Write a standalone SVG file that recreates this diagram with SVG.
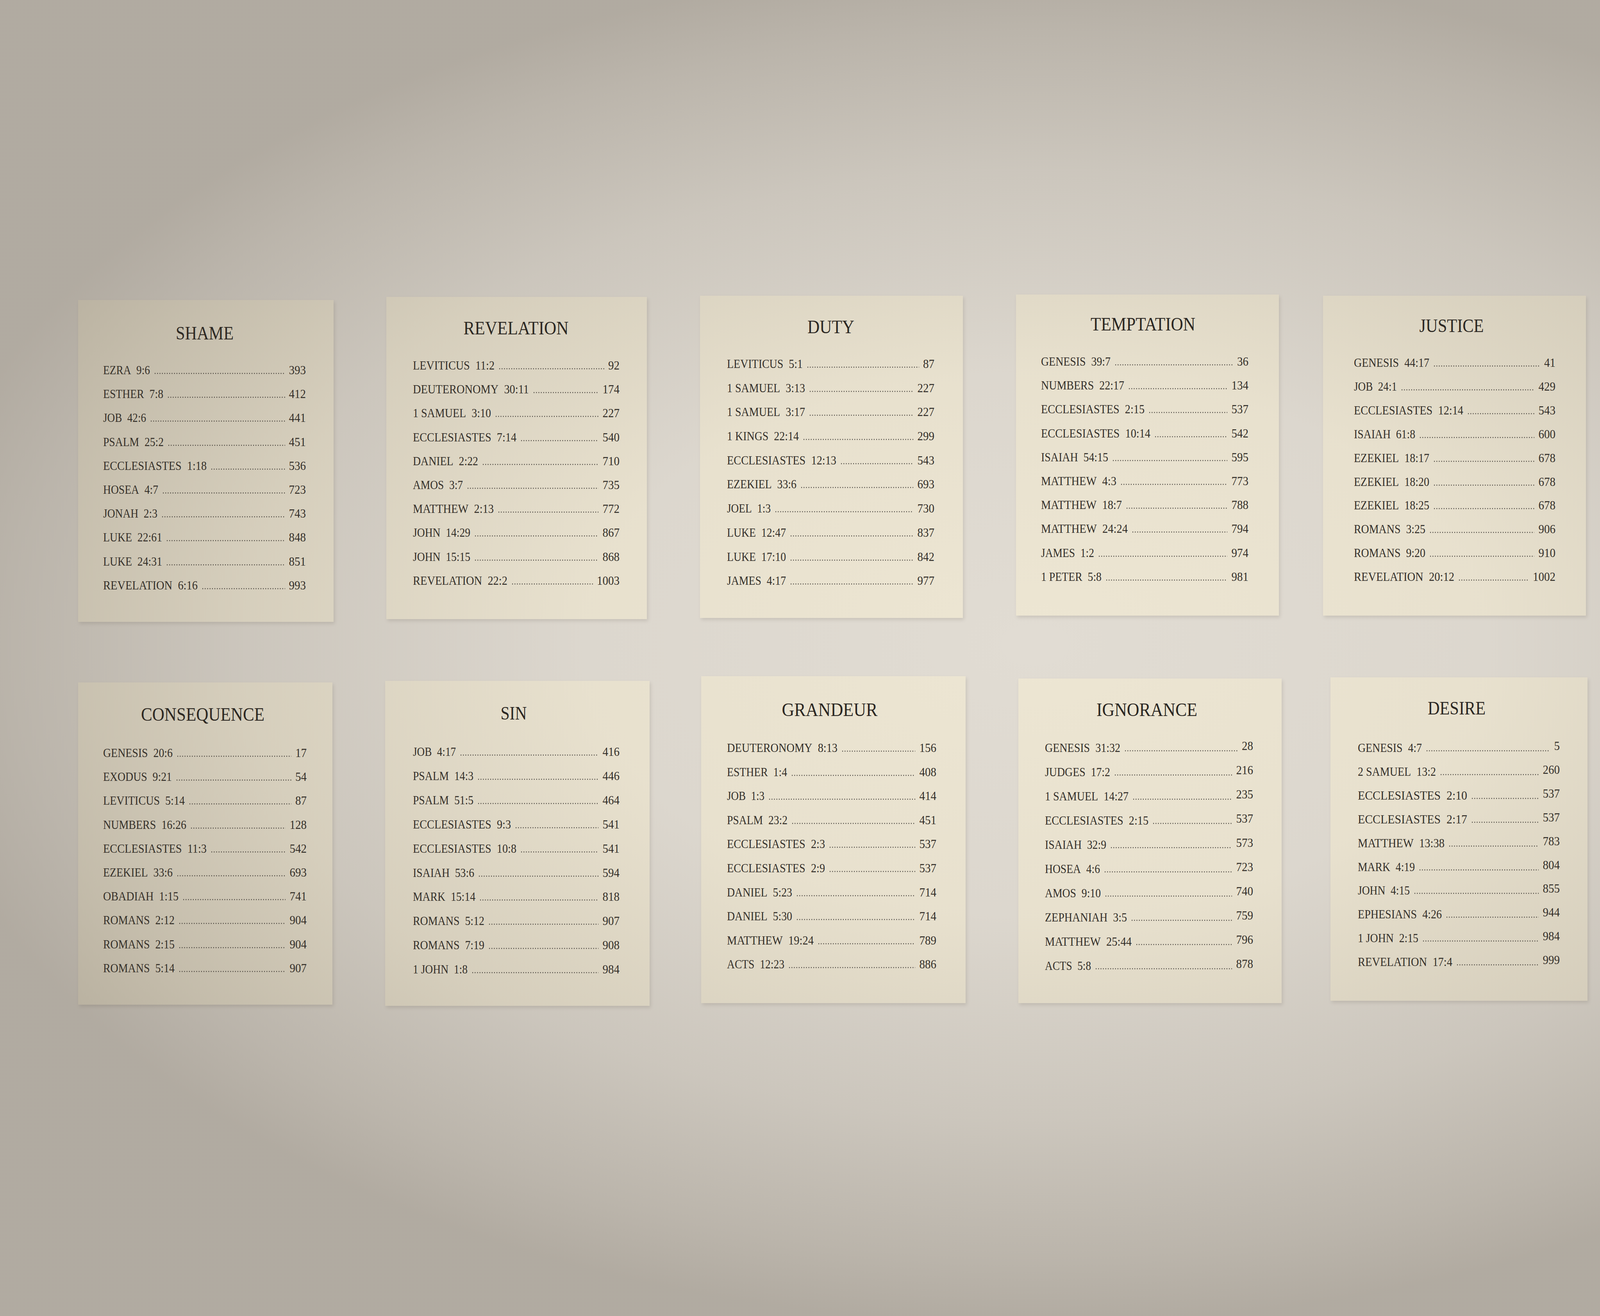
<svg xmlns="http://www.w3.org/2000/svg" width="5053" height="3369" viewBox="0 0 5053 3369">
<defs>
<radialGradient id="vig" gradientUnits="userSpaceOnUse" cx="2650" cy="1650" r="2900" gradientTransform="translate(2650 1650) scale(1 0.6) translate(-2650 -1650)">
<stop offset="0" stop-color="#3c3226" stop-opacity="0"/>
<stop offset="0.4" stop-color="#3c3226" stop-opacity="0.03"/>
<stop offset="0.7" stop-color="#3c3226" stop-opacity="0.13"/>
<stop offset="0.9" stop-color="#3c3226" stop-opacity="0.23"/>
<stop offset="1" stop-color="#3c3226" stop-opacity="0.29"/>
</radialGradient>
<filter id="sh" x="-5%" y="-5%" width="110%" height="110%"><feGaussianBlur stdDeviation="5"/></filter>
</defs>
<style>
.p{fill:#ede6d3}
.s{fill:#5a5045;opacity:0.16;filter:url(#sh)}
.t{font-family:"Liberation Serif","Times New Roman",serif;font-size:49px;fill:#2a2622;text-anchor:middle}
.e{font-family:"Liberation Serif","Times New Roman",serif;font-size:32px;fill:#322e29}
.n{font-family:"Liberation Serif","Times New Roman",serif;font-size:32px;fill:#322e29;text-anchor:end}
.d{stroke:#504b45;stroke-width:2.4;stroke-dasharray:2.2 4;fill:none}
</style>
<rect x="0" y="0" width="5053" height="3369" fill="#e1dcd3"/>

<g id="panel-shame">
<rect class="s" x="203" y="773" width="654" height="824"/>
<rect class="p" x="200" y="768" width="654" height="824"/>
<text class="t" x="524" y="869" textLength="148" lengthAdjust="spacingAndGlyphs">SHAME</text>
<text class="e" x="264" y="958" textLength="120" lengthAdjust="spacingAndGlyphs">EZRA&#8194;9:6</text><line class="d" x1="396" y1="956" x2="730" y2="956"/><text class="n" x="783" y="958" textLength="43.5" lengthAdjust="spacingAndGlyphs">393</text>
<text class="e" x="264" y="1019" textLength="154" lengthAdjust="spacingAndGlyphs">ESTHER&#8194;7:8</text><line class="d" x1="430" y1="1017" x2="730" y2="1017"/><text class="n" x="783" y="1019" textLength="43.5" lengthAdjust="spacingAndGlyphs">412</text>
<text class="e" x="264" y="1080" textLength="110" lengthAdjust="spacingAndGlyphs">JOB&#8194;42:6</text><line class="d" x1="386" y1="1078" x2="730" y2="1078"/><text class="n" x="783" y="1080" textLength="43.5" lengthAdjust="spacingAndGlyphs">441</text>
<text class="e" x="264" y="1142" textLength="155" lengthAdjust="spacingAndGlyphs">PSALM&#8194;25:2</text><line class="d" x1="431" y1="1140" x2="730" y2="1140"/><text class="n" x="783" y="1142" textLength="43.5" lengthAdjust="spacingAndGlyphs">451</text>
<text class="e" x="264" y="1203" textLength="265" lengthAdjust="spacingAndGlyphs">ECCLESIASTES&#8194;1:18</text><line class="d" x1="541" y1="1201" x2="730" y2="1201"/><text class="n" x="783" y="1203" textLength="43.5" lengthAdjust="spacingAndGlyphs">536</text>
<text class="e" x="264" y="1264" textLength="141" lengthAdjust="spacingAndGlyphs">HOSEA&#8194;4:7</text><line class="d" x1="417" y1="1262" x2="730" y2="1262"/><text class="n" x="783" y="1264" textLength="43.5" lengthAdjust="spacingAndGlyphs">723</text>
<text class="e" x="264" y="1325" textLength="139" lengthAdjust="spacingAndGlyphs">JONAH&#8194;2:3</text><line class="d" x1="415" y1="1323" x2="730" y2="1323"/><text class="n" x="783" y="1325" textLength="43.5" lengthAdjust="spacingAndGlyphs">743</text>
<text class="e" x="264" y="1386" textLength="151" lengthAdjust="spacingAndGlyphs">LUKE&#8194;22:61</text><line class="d" x1="427" y1="1384" x2="730" y2="1384"/><text class="n" x="783" y="1386" textLength="43.5" lengthAdjust="spacingAndGlyphs">848</text>
<text class="e" x="264" y="1448" textLength="151" lengthAdjust="spacingAndGlyphs">LUKE&#8194;24:31</text><line class="d" x1="427" y1="1446" x2="730" y2="1446"/><text class="n" x="783" y="1448" textLength="43.5" lengthAdjust="spacingAndGlyphs">851</text>
<text class="e" x="264" y="1509" textLength="242" lengthAdjust="spacingAndGlyphs">REVELATION&#8194;6:16</text><line class="d" x1="518" y1="1507" x2="730" y2="1507"/><text class="n" x="783" y="1509" textLength="43.5" lengthAdjust="spacingAndGlyphs">993</text>
</g>

<g id="panel-revelation">
<rect class="s" x="992" y="765" width="667" height="825"/>
<rect class="p" x="989" y="760" width="667" height="825"/>
<text class="t" x="1321" y="856" textLength="269" lengthAdjust="spacingAndGlyphs">REVELATION</text>
<text class="e" x="1057" y="946" textLength="209" lengthAdjust="spacingAndGlyphs">LEVITICUS&#8194;11:2</text><line class="d" x1="1278" y1="944" x2="1547" y2="944"/><text class="n" x="1586" y="946" textLength="29" lengthAdjust="spacingAndGlyphs">92</text>
<text class="e" x="1057" y="1007" textLength="297" lengthAdjust="spacingAndGlyphs">DEUTERONOMY&#8194;30:11</text><line class="d" x1="1366" y1="1005" x2="1532" y2="1005"/><text class="n" x="1586" y="1007" textLength="43.5" lengthAdjust="spacingAndGlyphs">174</text>
<text class="e" x="1057" y="1068" textLength="200" lengthAdjust="spacingAndGlyphs">1 SAMUEL&#8194;3:10</text><line class="d" x1="1269" y1="1066" x2="1532" y2="1066"/><text class="n" x="1586" y="1068" textLength="43.5" lengthAdjust="spacingAndGlyphs">227</text>
<text class="e" x="1057" y="1130" textLength="265" lengthAdjust="spacingAndGlyphs">ECCLESIASTES&#8194;7:14</text><line class="d" x1="1334" y1="1128" x2="1532" y2="1128"/><text class="n" x="1586" y="1130" textLength="43.5" lengthAdjust="spacingAndGlyphs">540</text>
<text class="e" x="1057" y="1191" textLength="167" lengthAdjust="spacingAndGlyphs">DANIEL&#8194;2:22</text><line class="d" x1="1236" y1="1189" x2="1532" y2="1189"/><text class="n" x="1586" y="1191" textLength="43.5" lengthAdjust="spacingAndGlyphs">710</text>
<text class="e" x="1057" y="1252" textLength="128" lengthAdjust="spacingAndGlyphs">AMOS&#8194;3:7</text><line class="d" x1="1197" y1="1250" x2="1532" y2="1250"/><text class="n" x="1586" y="1252" textLength="43.5" lengthAdjust="spacingAndGlyphs">735</text>
<text class="e" x="1057" y="1313" textLength="207" lengthAdjust="spacingAndGlyphs">MATTHEW&#8194;2:13</text><line class="d" x1="1276" y1="1311" x2="1532" y2="1311"/><text class="n" x="1586" y="1313" textLength="43.5" lengthAdjust="spacingAndGlyphs">772</text>
<text class="e" x="1057" y="1374" textLength="147" lengthAdjust="spacingAndGlyphs">JOHN&#8194;14:29</text><line class="d" x1="1216" y1="1372" x2="1532" y2="1372"/><text class="n" x="1586" y="1374" textLength="43.5" lengthAdjust="spacingAndGlyphs">867</text>
<text class="e" x="1057" y="1436" textLength="147" lengthAdjust="spacingAndGlyphs">JOHN&#8194;15:15</text><line class="d" x1="1216" y1="1434" x2="1532" y2="1434"/><text class="n" x="1586" y="1436" textLength="43.5" lengthAdjust="spacingAndGlyphs">868</text>
<text class="e" x="1057" y="1497" textLength="242" lengthAdjust="spacingAndGlyphs">REVELATION&#8194;22:2</text><line class="d" x1="1311" y1="1495" x2="1518" y2="1495"/><text class="n" x="1586" y="1497" textLength="58" lengthAdjust="spacingAndGlyphs">1003</text>
</g>

<g id="panel-duty">
<rect class="s" x="1795" y="762" width="673" height="825"/>
<rect class="p" x="1792" y="757" width="673" height="825"/>
<text class="t" x="2127" y="853" textLength="120" lengthAdjust="spacingAndGlyphs">DUTY</text>
<text class="e" x="1861" y="942" textLength="194" lengthAdjust="spacingAndGlyphs">LEVITICUS&#8194;5:1</text><line class="d" x1="2067" y1="940" x2="2353" y2="940"/><text class="n" x="2392" y="942" textLength="29" lengthAdjust="spacingAndGlyphs">87</text>
<text class="e" x="1861" y="1004" textLength="200" lengthAdjust="spacingAndGlyphs">1 SAMUEL&#8194;3:13</text><line class="d" x1="2073" y1="1002" x2="2338" y2="1002"/><text class="n" x="2392" y="1004" textLength="43.5" lengthAdjust="spacingAndGlyphs">227</text>
<text class="e" x="1861" y="1065" textLength="200" lengthAdjust="spacingAndGlyphs">1 SAMUEL&#8194;3:17</text><line class="d" x1="2073" y1="1063" x2="2338" y2="1063"/><text class="n" x="2392" y="1065" textLength="43.5" lengthAdjust="spacingAndGlyphs">227</text>
<text class="e" x="1861" y="1127" textLength="184" lengthAdjust="spacingAndGlyphs">1 KINGS&#8194;22:14</text><line class="d" x1="2057" y1="1125" x2="2338" y2="1125"/><text class="n" x="2392" y="1127" textLength="43.5" lengthAdjust="spacingAndGlyphs">299</text>
<text class="e" x="1861" y="1189" textLength="280" lengthAdjust="spacingAndGlyphs">ECCLESIASTES&#8194;12:13</text><line class="d" x1="2153" y1="1187" x2="2338" y2="1187"/><text class="n" x="2392" y="1189" textLength="43.5" lengthAdjust="spacingAndGlyphs">543</text>
<text class="e" x="1861" y="1250" textLength="178" lengthAdjust="spacingAndGlyphs">EZEKIEL&#8194;33:6</text><line class="d" x1="2051" y1="1248" x2="2338" y2="1248"/><text class="n" x="2392" y="1250" textLength="43.5" lengthAdjust="spacingAndGlyphs">693</text>
<text class="e" x="1861" y="1312" textLength="112" lengthAdjust="spacingAndGlyphs">JOEL&#8194;1:3</text><line class="d" x1="1985" y1="1310" x2="2338" y2="1310"/><text class="n" x="2392" y="1312" textLength="43.5" lengthAdjust="spacingAndGlyphs">730</text>
<text class="e" x="1861" y="1374" textLength="151" lengthAdjust="spacingAndGlyphs">LUKE&#8194;12:47</text><line class="d" x1="2024" y1="1372" x2="2338" y2="1372"/><text class="n" x="2392" y="1374" textLength="43.5" lengthAdjust="spacingAndGlyphs">837</text>
<text class="e" x="1861" y="1436" textLength="151" lengthAdjust="spacingAndGlyphs">LUKE&#8194;17:10</text><line class="d" x1="2024" y1="1434" x2="2338" y2="1434"/><text class="n" x="2392" y="1436" textLength="43.5" lengthAdjust="spacingAndGlyphs">842</text>
<text class="e" x="1861" y="1497" textLength="151" lengthAdjust="spacingAndGlyphs">JAMES&#8194;4:17</text><line class="d" x1="2024" y1="1495" x2="2338" y2="1495"/><text class="n" x="2392" y="1497" textLength="43.5" lengthAdjust="spacingAndGlyphs">977</text>
</g>

<g id="panel-temptation">
<rect class="s" x="2604" y="759" width="673" height="822"/>
<rect class="p" x="2601" y="754" width="673" height="822"/>
<text class="t" x="2926" y="846" textLength="268" lengthAdjust="spacingAndGlyphs">TEMPTATION</text>
<text class="e" x="2665" y="936" textLength="178" lengthAdjust="spacingAndGlyphs">GENESIS&#8194;39:7</text><line class="d" x1="2855" y1="934" x2="3157" y2="934"/><text class="n" x="3196" y="936" textLength="29" lengthAdjust="spacingAndGlyphs">36</text>
<text class="e" x="2665" y="997" textLength="213" lengthAdjust="spacingAndGlyphs">NUMBERS&#8194;22:17</text><line class="d" x1="2890" y1="995" x2="3142" y2="995"/><text class="n" x="3196" y="997" textLength="43.5" lengthAdjust="spacingAndGlyphs">134</text>
<text class="e" x="2665" y="1058" textLength="265" lengthAdjust="spacingAndGlyphs">ECCLESIASTES&#8194;2:15</text><line class="d" x1="2942" y1="1056" x2="3142" y2="1056"/><text class="n" x="3196" y="1058" textLength="43.5" lengthAdjust="spacingAndGlyphs">537</text>
<text class="e" x="2665" y="1120" textLength="280" lengthAdjust="spacingAndGlyphs">ECCLESIASTES&#8194;10:14</text><line class="d" x1="2957" y1="1118" x2="3142" y2="1118"/><text class="n" x="3196" y="1120" textLength="43.5" lengthAdjust="spacingAndGlyphs">542</text>
<text class="e" x="2665" y="1181" textLength="172" lengthAdjust="spacingAndGlyphs">ISAIAH&#8194;54:15</text><line class="d" x1="2849" y1="1179" x2="3142" y2="1179"/><text class="n" x="3196" y="1181" textLength="43.5" lengthAdjust="spacingAndGlyphs">595</text>
<text class="e" x="2665" y="1242" textLength="193" lengthAdjust="spacingAndGlyphs">MATTHEW&#8194;4:3</text><line class="d" x1="2870" y1="1240" x2="3142" y2="1240"/><text class="n" x="3196" y="1242" textLength="43.5" lengthAdjust="spacingAndGlyphs">773</text>
<text class="e" x="2665" y="1303" textLength="207" lengthAdjust="spacingAndGlyphs">MATTHEW&#8194;18:7</text><line class="d" x1="2884" y1="1301" x2="3142" y2="1301"/><text class="n" x="3196" y="1303" textLength="43.5" lengthAdjust="spacingAndGlyphs">788</text>
<text class="e" x="2665" y="1364" textLength="222" lengthAdjust="spacingAndGlyphs">MATTHEW&#8194;24:24</text><line class="d" x1="2899" y1="1362" x2="3142" y2="1362"/><text class="n" x="3196" y="1364" textLength="43.5" lengthAdjust="spacingAndGlyphs">794</text>
<text class="e" x="2665" y="1426" textLength="136" lengthAdjust="spacingAndGlyphs">JAMES&#8194;1:2</text><line class="d" x1="2813" y1="1424" x2="3142" y2="1424"/><text class="n" x="3196" y="1426" textLength="43.5" lengthAdjust="spacingAndGlyphs">974</text>
<text class="e" x="2665" y="1487" textLength="155" lengthAdjust="spacingAndGlyphs">1 PETER&#8194;5:8</text><line class="d" x1="2832" y1="1485" x2="3142" y2="1485"/><text class="n" x="3196" y="1487" textLength="43.5" lengthAdjust="spacingAndGlyphs">981</text>
</g>

<g id="panel-justice">
<rect class="s" x="3390" y="762" width="673" height="819"/>
<rect class="p" x="3387" y="757" width="673" height="819"/>
<text class="t" x="3716" y="850" textLength="165" lengthAdjust="spacingAndGlyphs">JUSTICE</text>
<text class="e" x="3466" y="939" textLength="193" lengthAdjust="spacingAndGlyphs">GENESIS&#8194;44:17</text><line class="d" x1="3671" y1="937" x2="3943" y2="937"/><text class="n" x="3982" y="939" textLength="29" lengthAdjust="spacingAndGlyphs">41</text>
<text class="e" x="3466" y="1000" textLength="110" lengthAdjust="spacingAndGlyphs">JOB&#8194;24:1</text><line class="d" x1="3588" y1="998" x2="3928" y2="998"/><text class="n" x="3982" y="1000" textLength="43.5" lengthAdjust="spacingAndGlyphs">429</text>
<text class="e" x="3466" y="1061" textLength="280" lengthAdjust="spacingAndGlyphs">ECCLESIASTES&#8194;12:14</text><line class="d" x1="3758" y1="1059" x2="3928" y2="1059"/><text class="n" x="3982" y="1061" textLength="43.5" lengthAdjust="spacingAndGlyphs">543</text>
<text class="e" x="3466" y="1122" textLength="157" lengthAdjust="spacingAndGlyphs">ISAIAH&#8194;61:8</text><line class="d" x1="3635" y1="1120" x2="3928" y2="1120"/><text class="n" x="3982" y="1122" textLength="43.5" lengthAdjust="spacingAndGlyphs">600</text>
<text class="e" x="3466" y="1183" textLength="193" lengthAdjust="spacingAndGlyphs">EZEKIEL&#8194;18:17</text><line class="d" x1="3671" y1="1181" x2="3928" y2="1181"/><text class="n" x="3982" y="1183" textLength="43.5" lengthAdjust="spacingAndGlyphs">678</text>
<text class="e" x="3466" y="1244" textLength="193" lengthAdjust="spacingAndGlyphs">EZEKIEL&#8194;18:20</text><line class="d" x1="3671" y1="1242" x2="3928" y2="1242"/><text class="n" x="3982" y="1244" textLength="43.5" lengthAdjust="spacingAndGlyphs">678</text>
<text class="e" x="3466" y="1304" textLength="193" lengthAdjust="spacingAndGlyphs">EZEKIEL&#8194;18:25</text><line class="d" x1="3671" y1="1302" x2="3928" y2="1302"/><text class="n" x="3982" y="1304" textLength="43.5" lengthAdjust="spacingAndGlyphs">678</text>
<text class="e" x="3466" y="1365" textLength="183" lengthAdjust="spacingAndGlyphs">ROMANS&#8194;3:25</text><line class="d" x1="3661" y1="1363" x2="3928" y2="1363"/><text class="n" x="3982" y="1365" textLength="43.5" lengthAdjust="spacingAndGlyphs">906</text>
<text class="e" x="3466" y="1426" textLength="183" lengthAdjust="spacingAndGlyphs">ROMANS&#8194;9:20</text><line class="d" x1="3661" y1="1424" x2="3928" y2="1424"/><text class="n" x="3982" y="1426" textLength="43.5" lengthAdjust="spacingAndGlyphs">910</text>
<text class="e" x="3466" y="1487" textLength="257" lengthAdjust="spacingAndGlyphs">REVELATION&#8194;20:12</text><line class="d" x1="3735" y1="1485" x2="3914" y2="1485"/><text class="n" x="3982" y="1487" textLength="58" lengthAdjust="spacingAndGlyphs">1002</text>
</g>

<g id="panel-freedom">
<rect class="s" x="4180" y="765" width="631" height="809"/>
<rect class="p" x="4177" y="760" width="631" height="809"/>
<text class="t" x="4489" y="859" textLength="196" lengthAdjust="spacingAndGlyphs">FREEDOM</text>
<text class="e" x="4243" y="946" textLength="191" lengthAdjust="spacingAndGlyphs">EXODUS&#8194;36:21</text><line class="d" x1="4446" y1="944" x2="4709" y2="944"/><text class="n" x="4748" y="946" textLength="29" lengthAdjust="spacingAndGlyphs">80</text>
<text class="e" x="4243" y="1006" textLength="283" lengthAdjust="spacingAndGlyphs">DEUTERONOMY&#8194;5:29</text><line class="d" x1="4538" y1="1004" x2="4694" y2="1004"/><text class="n" x="4748" y="1006" textLength="43.5" lengthAdjust="spacingAndGlyphs">154</text>
<text class="e" x="4243" y="1066" textLength="184" lengthAdjust="spacingAndGlyphs">JOSHUA&#8194;24:15</text><line class="d" x1="4439" y1="1064" x2="4694" y2="1064"/><text class="n" x="4748" y="1066" textLength="43.5" lengthAdjust="spacingAndGlyphs">199</text>
<text class="e" x="4243" y="1125" textLength="96" lengthAdjust="spacingAndGlyphs">JOB&#8194;1:1</text><line class="d" x1="4351" y1="1123" x2="4694" y2="1123"/><text class="n" x="4748" y="1125" textLength="43.5" lengthAdjust="spacingAndGlyphs">414</text>
<text class="e" x="4243" y="1185" textLength="157" lengthAdjust="spacingAndGlyphs">ISAIAH&#8194;1:17</text><line class="d" x1="4412" y1="1183" x2="4694" y2="1183"/><text class="n" x="4748" y="1185" textLength="43.5" lengthAdjust="spacingAndGlyphs">549</text>
<text class="e" x="4243" y="1245" textLength="178" lengthAdjust="spacingAndGlyphs">EZEKIEL&#8194;18:9</text><line class="d" x1="4433" y1="1243" x2="4694" y2="1243"/><text class="n" x="4748" y="1245" textLength="43.5" lengthAdjust="spacingAndGlyphs">678</text>
<text class="e" x="4243" y="1305" textLength="133" lengthAdjust="spacingAndGlyphs">JOHN&#8194;8:32</text><line class="d" x1="4388" y1="1303" x2="4694" y2="1303"/><text class="n" x="4748" y="1305" textLength="43.5" lengthAdjust="spacingAndGlyphs">860</text>
<text class="e" x="4243" y="1365" textLength="292" lengthAdjust="spacingAndGlyphs">1 CORINTHIANS&#8194;10:32</text><line class="d" x1="4547" y1="1363" x2="4694" y2="1363"/><text class="n" x="4748" y="1365" textLength="43.5" lengthAdjust="spacingAndGlyphs">923</text>
<text class="e" x="4243" y="1424" textLength="136" lengthAdjust="spacingAndGlyphs">JAMES&#8194;4:7</text><line class="d" x1="4391" y1="1422" x2="4694" y2="1422"/><text class="n" x="4748" y="1424" textLength="43.5" lengthAdjust="spacingAndGlyphs">976</text>
<text class="e" x="4243" y="1484" textLength="140" lengthAdjust="spacingAndGlyphs">1 JOHN&#8194;3:9</text><line class="d" x1="4395" y1="1482" x2="4694" y2="1482"/><text class="n" x="4748" y="1484" textLength="43.5" lengthAdjust="spacingAndGlyphs">985</text>
</g>

<g id="panel-consequence">
<rect class="s" x="203" y="1752" width="651" height="825"/>
<rect class="p" x="200" y="1747" width="651" height="825"/>
<text class="t" x="519" y="1845" textLength="316" lengthAdjust="spacingAndGlyphs">CONSEQUENCE</text>
<text class="e" x="264" y="1938" textLength="178" lengthAdjust="spacingAndGlyphs">GENESIS&#8194;20:6</text><line class="d" x1="454" y1="1936" x2="746" y2="1936"/><text class="n" x="785" y="1938" textLength="29" lengthAdjust="spacingAndGlyphs">17</text>
<text class="e" x="264" y="1999" textLength="176" lengthAdjust="spacingAndGlyphs">EXODUS&#8194;9:21</text><line class="d" x1="452" y1="1997" x2="746" y2="1997"/><text class="n" x="785" y="1999" textLength="29" lengthAdjust="spacingAndGlyphs">54</text>
<text class="e" x="264" y="2060" textLength="209" lengthAdjust="spacingAndGlyphs">LEVITICUS&#8194;5:14</text><line class="d" x1="485" y1="2058" x2="746" y2="2058"/><text class="n" x="785" y="2060" textLength="29" lengthAdjust="spacingAndGlyphs">87</text>
<text class="e" x="264" y="2122" textLength="213" lengthAdjust="spacingAndGlyphs">NUMBERS&#8194;16:26</text><line class="d" x1="489" y1="2120" x2="731" y2="2120"/><text class="n" x="785" y="2122" textLength="43.5" lengthAdjust="spacingAndGlyphs">128</text>
<text class="e" x="264" y="2183" textLength="265" lengthAdjust="spacingAndGlyphs">ECCLESIASTES&#8194;11:3</text><line class="d" x1="541" y1="2181" x2="731" y2="2181"/><text class="n" x="785" y="2183" textLength="43.5" lengthAdjust="spacingAndGlyphs">542</text>
<text class="e" x="264" y="2244" textLength="178" lengthAdjust="spacingAndGlyphs">EZEKIEL&#8194;33:6</text><line class="d" x1="454" y1="2242" x2="731" y2="2242"/><text class="n" x="785" y="2244" textLength="43.5" lengthAdjust="spacingAndGlyphs">693</text>
<text class="e" x="264" y="2305" textLength="193" lengthAdjust="spacingAndGlyphs">OBADIAH&#8194;1:15</text><line class="d" x1="469" y1="2303" x2="731" y2="2303"/><text class="n" x="785" y="2305" textLength="43.5" lengthAdjust="spacingAndGlyphs">741</text>
<text class="e" x="264" y="2366" textLength="183" lengthAdjust="spacingAndGlyphs">ROMANS&#8194;2:12</text><line class="d" x1="459" y1="2364" x2="731" y2="2364"/><text class="n" x="785" y="2366" textLength="43.5" lengthAdjust="spacingAndGlyphs">904</text>
<text class="e" x="264" y="2428" textLength="183" lengthAdjust="spacingAndGlyphs">ROMANS&#8194;2:15</text><line class="d" x1="459" y1="2426" x2="731" y2="2426"/><text class="n" x="785" y="2428" textLength="43.5" lengthAdjust="spacingAndGlyphs">904</text>
<text class="e" x="264" y="2489" textLength="183" lengthAdjust="spacingAndGlyphs">ROMANS&#8194;5:14</text><line class="d" x1="459" y1="2487" x2="731" y2="2487"/><text class="n" x="785" y="2489" textLength="43.5" lengthAdjust="spacingAndGlyphs">907</text>
</g>

<g id="panel-sin">
<rect class="s" x="989" y="1748" width="677" height="832"/>
<rect class="p" x="986" y="1743" width="677" height="832"/>
<text class="t" x="1315" y="1842" textLength="67" lengthAdjust="spacingAndGlyphs">SIN</text>
<text class="e" x="1057" y="1935" textLength="110" lengthAdjust="spacingAndGlyphs">JOB&#8194;4:17</text><line class="d" x1="1179" y1="1933" x2="1532" y2="1933"/><text class="n" x="1586" y="1935" textLength="43.5" lengthAdjust="spacingAndGlyphs">416</text>
<text class="e" x="1057" y="1997" textLength="155" lengthAdjust="spacingAndGlyphs">PSALM&#8194;14:3</text><line class="d" x1="1224" y1="1995" x2="1532" y2="1995"/><text class="n" x="1586" y="1997" textLength="43.5" lengthAdjust="spacingAndGlyphs">446</text>
<text class="e" x="1057" y="2059" textLength="155" lengthAdjust="spacingAndGlyphs">PSALM&#8194;51:5</text><line class="d" x1="1224" y1="2057" x2="1532" y2="2057"/><text class="n" x="1586" y="2059" textLength="43.5" lengthAdjust="spacingAndGlyphs">464</text>
<text class="e" x="1057" y="2121" textLength="251" lengthAdjust="spacingAndGlyphs">ECCLESIASTES&#8194;9:3</text><line class="d" x1="1320" y1="2119" x2="1532" y2="2119"/><text class="n" x="1586" y="2121" textLength="43.5" lengthAdjust="spacingAndGlyphs">541</text>
<text class="e" x="1057" y="2183" textLength="265" lengthAdjust="spacingAndGlyphs">ECCLESIASTES&#8194;10:8</text><line class="d" x1="1334" y1="2181" x2="1532" y2="2181"/><text class="n" x="1586" y="2183" textLength="43.5" lengthAdjust="spacingAndGlyphs">541</text>
<text class="e" x="1057" y="2245" textLength="157" lengthAdjust="spacingAndGlyphs">ISAIAH&#8194;53:6</text><line class="d" x1="1226" y1="2243" x2="1532" y2="2243"/><text class="n" x="1586" y="2245" textLength="43.5" lengthAdjust="spacingAndGlyphs">594</text>
<text class="e" x="1057" y="2306" textLength="160" lengthAdjust="spacingAndGlyphs">MARK&#8194;15:14</text><line class="d" x1="1229" y1="2304" x2="1532" y2="2304"/><text class="n" x="1586" y="2306" textLength="43.5" lengthAdjust="spacingAndGlyphs">818</text>
<text class="e" x="1057" y="2368" textLength="183" lengthAdjust="spacingAndGlyphs">ROMANS&#8194;5:12</text><line class="d" x1="1252" y1="2366" x2="1532" y2="2366"/><text class="n" x="1586" y="2368" textLength="43.5" lengthAdjust="spacingAndGlyphs">907</text>
<text class="e" x="1057" y="2430" textLength="183" lengthAdjust="spacingAndGlyphs">ROMANS&#8194;7:19</text><line class="d" x1="1252" y1="2428" x2="1532" y2="2428"/><text class="n" x="1586" y="2430" textLength="43.5" lengthAdjust="spacingAndGlyphs">908</text>
<text class="e" x="1057" y="2492" textLength="140" lengthAdjust="spacingAndGlyphs">1 JOHN&#8194;1:8</text><line class="d" x1="1209" y1="2490" x2="1532" y2="2490"/><text class="n" x="1586" y="2492" textLength="43.5" lengthAdjust="spacingAndGlyphs">984</text>
</g>

<g id="panel-grandeur">
<rect class="s" x="1798" y="1736" width="677" height="837"/>
<rect class="p" x="1795" y="1731" width="677" height="837"/>
<text class="t" x="2124" y="1833" textLength="245" lengthAdjust="spacingAndGlyphs">GRANDEUR</text>
<text class="e" x="1861" y="1925" textLength="283" lengthAdjust="spacingAndGlyphs">DEUTERONOMY&#8194;8:13</text><line class="d" x1="2156" y1="1923" x2="2343" y2="1923"/><text class="n" x="2397" y="1925" textLength="43.5" lengthAdjust="spacingAndGlyphs">156</text>
<text class="e" x="1861" y="1987" textLength="154" lengthAdjust="spacingAndGlyphs">ESTHER&#8194;1:4</text><line class="d" x1="2027" y1="1985" x2="2343" y2="1985"/><text class="n" x="2397" y="1987" textLength="43.5" lengthAdjust="spacingAndGlyphs">408</text>
<text class="e" x="1861" y="2048" textLength="96" lengthAdjust="spacingAndGlyphs">JOB&#8194;1:3</text><line class="d" x1="1969" y1="2046" x2="2343" y2="2046"/><text class="n" x="2397" y="2048" textLength="43.5" lengthAdjust="spacingAndGlyphs">414</text>
<text class="e" x="1861" y="2110" textLength="155" lengthAdjust="spacingAndGlyphs">PSALM&#8194;23:2</text><line class="d" x1="2028" y1="2108" x2="2343" y2="2108"/><text class="n" x="2397" y="2110" textLength="43.5" lengthAdjust="spacingAndGlyphs">451</text>
<text class="e" x="1861" y="2171" textLength="251" lengthAdjust="spacingAndGlyphs">ECCLESIASTES&#8194;2:3</text><line class="d" x1="2124" y1="2169" x2="2343" y2="2169"/><text class="n" x="2397" y="2171" textLength="43.5" lengthAdjust="spacingAndGlyphs">537</text>
<text class="e" x="1861" y="2233" textLength="251" lengthAdjust="spacingAndGlyphs">ECCLESIASTES&#8194;2:9</text><line class="d" x1="2124" y1="2231" x2="2343" y2="2231"/><text class="n" x="2397" y="2233" textLength="43.5" lengthAdjust="spacingAndGlyphs">537</text>
<text class="e" x="1861" y="2295" textLength="167" lengthAdjust="spacingAndGlyphs">DANIEL&#8194;5:23</text><line class="d" x1="2040" y1="2293" x2="2343" y2="2293"/><text class="n" x="2397" y="2295" textLength="43.5" lengthAdjust="spacingAndGlyphs">714</text>
<text class="e" x="1861" y="2356" textLength="167" lengthAdjust="spacingAndGlyphs">DANIEL&#8194;5:30</text><line class="d" x1="2040" y1="2354" x2="2343" y2="2354"/><text class="n" x="2397" y="2356" textLength="43.5" lengthAdjust="spacingAndGlyphs">714</text>
<text class="e" x="1861" y="2418" textLength="222" lengthAdjust="spacingAndGlyphs">MATTHEW&#8194;19:24</text><line class="d" x1="2095" y1="2416" x2="2343" y2="2416"/><text class="n" x="2397" y="2418" textLength="43.5" lengthAdjust="spacingAndGlyphs">789</text>
<text class="e" x="1861" y="2479" textLength="147" lengthAdjust="spacingAndGlyphs">ACTS&#8194;12:23</text><line class="d" x1="2020" y1="2477" x2="2343" y2="2477"/><text class="n" x="2397" y="2479" textLength="43.5" lengthAdjust="spacingAndGlyphs">886</text>
</g>

<g id="panel-ignorance">
<rect class="s" x="2610" y="1742" width="674" height="831"/>
<rect class="p" x="2607" y="1737" width="674" height="831"/>
<text class="t" x="2936" y="1833" textLength="258" lengthAdjust="spacingAndGlyphs">IGNORANCE</text>
<text class="e" x="2675" y="1925" textLength="193" lengthAdjust="spacingAndGlyphs">GENESIS&#8194;31:32</text><line class="d" x1="2880" y1="1922" x2="3169" y2="1922"/><text class="n" x="3208" y="1920" textLength="29" lengthAdjust="spacingAndGlyphs">28</text>
<text class="e" x="2675" y="1987" textLength="167" lengthAdjust="spacingAndGlyphs">JUDGES&#8194;17:2</text><line class="d" x1="2854" y1="1984" x2="3154" y2="1984"/><text class="n" x="3208" y="1982" textLength="43.5" lengthAdjust="spacingAndGlyphs">216</text>
<text class="e" x="2675" y="2049" textLength="214" lengthAdjust="spacingAndGlyphs">1 SAMUEL&#8194;14:27</text><line class="d" x1="2901" y1="2046" x2="3154" y2="2046"/><text class="n" x="3208" y="2044" textLength="43.5" lengthAdjust="spacingAndGlyphs">235</text>
<text class="e" x="2675" y="2111" textLength="265" lengthAdjust="spacingAndGlyphs">ECCLESIASTES&#8194;2:15</text><line class="d" x1="2952" y1="2108" x2="3154" y2="2108"/><text class="n" x="3208" y="2106" textLength="43.5" lengthAdjust="spacingAndGlyphs">537</text>
<text class="e" x="2675" y="2173" textLength="157" lengthAdjust="spacingAndGlyphs">ISAIAH&#8194;32:9</text><line class="d" x1="2844" y1="2170" x2="3154" y2="2170"/><text class="n" x="3208" y="2168" textLength="43.5" lengthAdjust="spacingAndGlyphs">573</text>
<text class="e" x="2675" y="2235" textLength="141" lengthAdjust="spacingAndGlyphs">HOSEA&#8194;4:6</text><line class="d" x1="2828" y1="2232" x2="3154" y2="2232"/><text class="n" x="3208" y="2230" textLength="43.5" lengthAdjust="spacingAndGlyphs">723</text>
<text class="e" x="2675" y="2297" textLength="143" lengthAdjust="spacingAndGlyphs">AMOS&#8194;9:10</text><line class="d" x1="2830" y1="2294" x2="3154" y2="2294"/><text class="n" x="3208" y="2292" textLength="43.5" lengthAdjust="spacingAndGlyphs">740</text>
<text class="e" x="2675" y="2359" textLength="210" lengthAdjust="spacingAndGlyphs">ZEPHANIAH&#8194;3:5</text><line class="d" x1="2897" y1="2356" x2="3154" y2="2356"/><text class="n" x="3208" y="2354" textLength="43.5" lengthAdjust="spacingAndGlyphs">759</text>
<text class="e" x="2675" y="2421" textLength="222" lengthAdjust="spacingAndGlyphs">MATTHEW&#8194;25:44</text><line class="d" x1="2909" y1="2418" x2="3154" y2="2418"/><text class="n" x="3208" y="2416" textLength="43.5" lengthAdjust="spacingAndGlyphs">796</text>
<text class="e" x="2675" y="2483" textLength="118" lengthAdjust="spacingAndGlyphs">ACTS&#8194;5:8</text><line class="d" x1="2805" y1="2480" x2="3154" y2="2480"/><text class="n" x="3208" y="2478" textLength="43.5" lengthAdjust="spacingAndGlyphs">878</text>
</g>

<g id="panel-desire">
<rect class="s" x="3409" y="1739" width="658" height="828"/>
<rect class="p" x="3406" y="1734" width="658" height="828"/>
<text class="t" x="3729" y="1829" textLength="148" lengthAdjust="spacingAndGlyphs">DESIRE</text>
<text class="e" x="3476" y="1925" textLength="164" lengthAdjust="spacingAndGlyphs">GENESIS&#8194;4:7</text><line class="d" x1="3652" y1="1922" x2="3968" y2="1922"/><text class="n" x="3993" y="1920" textLength="14.5" lengthAdjust="spacingAndGlyphs">5</text>
<text class="e" x="3476" y="1986" textLength="200" lengthAdjust="spacingAndGlyphs">2 SAMUEL&#8194;13:2</text><line class="d" x1="3688" y1="1983" x2="3939" y2="1983"/><text class="n" x="3993" y="1981" textLength="43.5" lengthAdjust="spacingAndGlyphs">260</text>
<text class="e" x="3476" y="2047" textLength="280" lengthAdjust="spacingAndGlyphs">ECCLESIASTES&#8194;2:10</text><line class="d" x1="3768" y1="2044" x2="3939" y2="2044"/><text class="n" x="3993" y="2042" textLength="43.5" lengthAdjust="spacingAndGlyphs">537</text>
<text class="e" x="3476" y="2108" textLength="280" lengthAdjust="spacingAndGlyphs">ECCLESIASTES&#8194;2:17</text><line class="d" x1="3768" y1="2105" x2="3939" y2="2105"/><text class="n" x="3993" y="2103" textLength="43.5" lengthAdjust="spacingAndGlyphs">537</text>
<text class="e" x="3476" y="2169" textLength="222" lengthAdjust="spacingAndGlyphs">MATTHEW&#8194;13:38</text><line class="d" x1="3710" y1="2166" x2="3939" y2="2166"/><text class="n" x="3993" y="2164" textLength="43.5" lengthAdjust="spacingAndGlyphs">783</text>
<text class="e" x="3476" y="2230" textLength="146" lengthAdjust="spacingAndGlyphs">MARK&#8194;4:19</text><line class="d" x1="3634" y1="2227" x2="3939" y2="2227"/><text class="n" x="3993" y="2225" textLength="43.5" lengthAdjust="spacingAndGlyphs">804</text>
<text class="e" x="3476" y="2290" textLength="133" lengthAdjust="spacingAndGlyphs">JOHN&#8194;4:15</text><line class="d" x1="3621" y1="2287" x2="3939" y2="2287"/><text class="n" x="3993" y="2285" textLength="43.5" lengthAdjust="spacingAndGlyphs">855</text>
<text class="e" x="3476" y="2351" textLength="215" lengthAdjust="spacingAndGlyphs">EPHESIANS&#8194;4:26</text><line class="d" x1="3703" y1="2348" x2="3939" y2="2348"/><text class="n" x="3993" y="2346" textLength="43.5" lengthAdjust="spacingAndGlyphs">944</text>
<text class="e" x="3476" y="2412" textLength="155" lengthAdjust="spacingAndGlyphs">1 JOHN&#8194;2:15</text><line class="d" x1="3643" y1="2409" x2="3939" y2="2409"/><text class="n" x="3993" y="2407" textLength="43.5" lengthAdjust="spacingAndGlyphs">984</text>
<text class="e" x="3476" y="2473" textLength="242" lengthAdjust="spacingAndGlyphs">REVELATION&#8194;17:4</text><line class="d" x1="3730" y1="2470" x2="3939" y2="2470"/><text class="n" x="3993" y="2468" textLength="43.5" lengthAdjust="spacingAndGlyphs">999</text>
</g>

<g id="panel-preservation">
<rect class="s" x="4189" y="1732" width="638" height="822"/>
<rect class="p" x="4186" y="1727" width="638" height="822"/>
<text class="t" x="4502" y="1826" textLength="301" lengthAdjust="spacingAndGlyphs">PRESERVATION</text>
<text class="e" x="4258" y="1916" textLength="214" lengthAdjust="spacingAndGlyphs">1 SAMUEL&#8194;25:26</text><line class="d" x1="4484" y1="1913" x2="4705" y2="1913"/><text class="n" x="4759" y="1910" textLength="43.5" lengthAdjust="spacingAndGlyphs">246</text>
<text class="e" x="4258" y="1976" textLength="125" lengthAdjust="spacingAndGlyphs">JOB&#8194;33:14</text><line class="d" x1="4395" y1="1973" x2="4705" y2="1973"/><text class="n" x="4759" y="1970" textLength="43.5" lengthAdjust="spacingAndGlyphs">435</text>
<text class="e" x="4258" y="2036" textLength="155" lengthAdjust="spacingAndGlyphs">PSALM&#8194;41:2</text><line class="d" x1="4425" y1="2033" x2="4705" y2="2033"/><text class="n" x="4759" y="2030" textLength="43.5" lengthAdjust="spacingAndGlyphs">460</text>
<text class="e" x="4258" y="2096" textLength="155" lengthAdjust="spacingAndGlyphs">PSALM&#8194;121:7</text><line class="d" x1="4425" y1="2093" x2="4705" y2="2093"/><text class="n" x="4759" y="2090" textLength="43.5" lengthAdjust="spacingAndGlyphs">503</text>
<text class="e" x="4258" y="2156" textLength="300" lengthAdjust="spacingAndGlyphs">ECCLESIASIASTES&#8194;3:11</text><line class="d" x1="4574" y1="2153" x2="4705" y2="2153"/><text class="n" x="4759" y="2150" textLength="43.5" lengthAdjust="spacingAndGlyphs">538</text>
<text class="e" x="4258" y="2217" textLength="207" lengthAdjust="spacingAndGlyphs">MATTHEW&#8194;6:13</text><line class="d" x1="4477" y1="2214" x2="4705" y2="2214"/><text class="n" x="4759" y="2211" textLength="43.5" lengthAdjust="spacingAndGlyphs">775</text>
<text class="e" x="4258" y="2277" textLength="207" lengthAdjust="spacingAndGlyphs">MATTHEW&#8194;7:11</text><line class="d" x1="4477" y1="2274" x2="4705" y2="2274"/><text class="n" x="4759" y="2271" textLength="43.5" lengthAdjust="spacingAndGlyphs">776</text>
<text class="e" x="4258" y="2337" textLength="292" lengthAdjust="spacingAndGlyphs">1 CORINTHIANS&#8194;10:13</text><line class="d" x1="4562" y1="2334" x2="4705" y2="2334"/><text class="n" x="4759" y="2331" textLength="43.5" lengthAdjust="spacingAndGlyphs">923</text>
<text class="e" x="4258" y="2397" textLength="214" lengthAdjust="spacingAndGlyphs">2 TIMOTHY&#8194;4:18</text><line class="d" x1="4484" y1="2394" x2="4705" y2="2394"/><text class="n" x="4759" y="2391" textLength="43.5" lengthAdjust="spacingAndGlyphs">962</text>
<text class="e" x="4258" y="2457" textLength="151" lengthAdjust="spacingAndGlyphs">JAMES&#8194;1:13</text><line class="d" x1="4421" y1="2454" x2="4705" y2="2454"/><text class="n" x="4759" y="2451" textLength="43.5" lengthAdjust="spacingAndGlyphs">975</text>
</g>

<rect x="0" y="0" width="5053" height="3369" fill="url(#vig)"/>
</svg>
